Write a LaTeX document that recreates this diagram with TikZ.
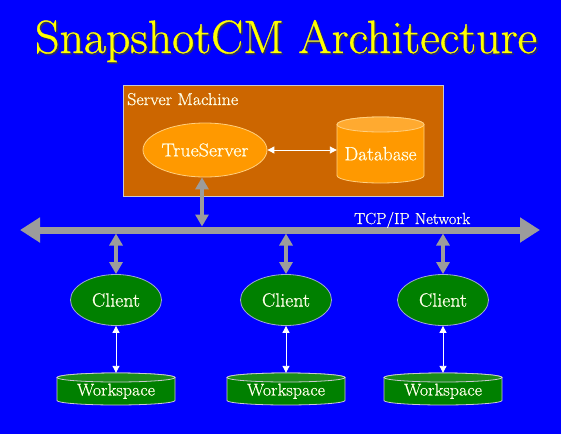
\documentclass[tikz,border=0pt]{standalone}
\usepackage{graphicx}
\usepackage{fontspec}
\setmainfont{Latin Modern Roman}[FakeBold=0.7]
\usetikzlibrary{arrows.meta,shapes.geometric}
\definecolor{bg}{HTML}{0000FF}
\definecolor{title}{HTML}{FFFF00}
\definecolor{shadowc}{HTML}{303060}
\definecolor{servfill}{HTML}{CC6600}
\definecolor{servline}{HTML}{C8C8D0}
\definecolor{orfill}{HTML}{FF9900}
\definecolor{ortop}{HTML}{FFAA30}
\definecolor{orline}{HTML}{FFD080}
\definecolor{grfill}{HTML}{008000}
\definecolor{grtop}{HTML}{1A8C1A}
\definecolor{grline}{HTML}{A0A8D8}
\definecolor{netgray}{HTML}{9C9C9C}
\definecolor{txt}{HTML}{FFFFE8}
\newcommand\fitw[3]{\resizebox{#1pt}{#2pt}{\fontsize{20}{24}\selectfont #3}}
\newcommand\drawcyl[8]{%
  \filldraw[fill=#6, draw=#8, line width=0.8pt] (#1-#4,#2+#5) -- (#1-#4,#3-#5)
    arc[start angle=180,end angle=360,x radius=#4pt,y radius=#5pt]
    -- (#1+#4,#2+#5) arc[start angle=0,end angle=180,x radius=#4pt,y radius=#5pt] -- cycle;
  \filldraw[fill=#7, draw=#8, line width=0.8pt] (#1,#2+#5) ellipse[x radius=#4pt, y radius=#5pt];
}
\tikzset{
  lbl/.style={text=txt, inner sep=0pt},
  ellnode/.style={ellipse, inner sep=0pt, line width=0.8pt},
  netarrow/.style={draw=netgray, line width=4pt, {Triangle[length=12pt,width=13pt]}-{Triangle[length=12pt,width=13pt]}},
  busarrow/.style={draw=netgray, line width=7pt, {Triangle[length=20pt,width=24pt]}-{Triangle[length=20pt,width=24pt]}},
  wharrow/.style={draw=white, line width=0.9pt, {Triangle[length=7pt,width=7pt]}-{Triangle[length=7pt,width=7pt]}},
}
\begin{document}
\begin{tikzpicture}[x=1pt,y=-1pt]
\useasboundingbox[fill=bg] (0,0) rectangle (561,434);
% title
\node[text=shadowc, inner sep=0pt, anchor=base] (tshadow) at (287.5,54.5) {\fitw{502}{33}{SnapshotCM Architecture}};
\node[text=title, inner sep=0pt, anchor=base] (title) at (286,53) {\fitw{502}{33}{SnapshotCM Architecture}};
% server machine
\node[draw=servline, fill=servfill, line width=0.8pt, minimum width=320pt, minimum height=111pt, inner sep=0pt] (sm) at (283,140.5) {};
\node[lbl, anchor=base west] (smlabel) at (127,105) {\fitw{111}{12}{Server Machine}};
\node[ellnode, draw=orline, fill=orfill, minimum width=124pt, minimum height=54pt, lbl] (ts) at (205,150) {\fitw{87}{13}{TrueServer}};
\drawcyl{380.5}{117}{183}{43.5}{7.5}{orfill}{ortop}{orline}
\node[lbl, minimum width=87pt] (db) at (380.5,153.7) {\fitw{72}{13.4}{Database}};
\draw[wharrow] (ts.east) -- (ts.east -| db.west);
% network
\coordinate (busL) at (20,230);
\coordinate (busR) at (540,230);
\coordinate (bustop) at (0,226.5);
\coordinate (busbot) at (0,233.5);
\draw[busarrow] (busL) -- (busR);
\node[lbl, anchor=base west] (tcp) at (354,224) {\fitw{116}{12}{TCP/IP Network}};
\draw[netarrow] ([xshift=-3pt]ts.south) -- ([xshift=-3pt]ts.south |- bustop);
% clients
\foreach \i/\x in {1/116,2/286,3/443}{
  \node[ellnode, draw=grline, fill=grfill, minimum width=91pt, minimum height=51pt, lbl] (c\i) at (\x,300) {\fitw{48}{13.4}{Client}};
  \drawcyl{\x}{373}{405}{59}{4.5}{grfill}{grtop}{servline}
  \node[lbl, minimum width=118pt, minimum height=36.5pt] (w\i) at (\x,391.25) {\fitw{78}{11.8}{Workspace}};
  \draw[netarrow] (c\i.north |- busbot) -- (c\i.north);
  \draw[wharrow] (c\i.south) -- (w\i.north);
}
\end{tikzpicture}
\end{document}
